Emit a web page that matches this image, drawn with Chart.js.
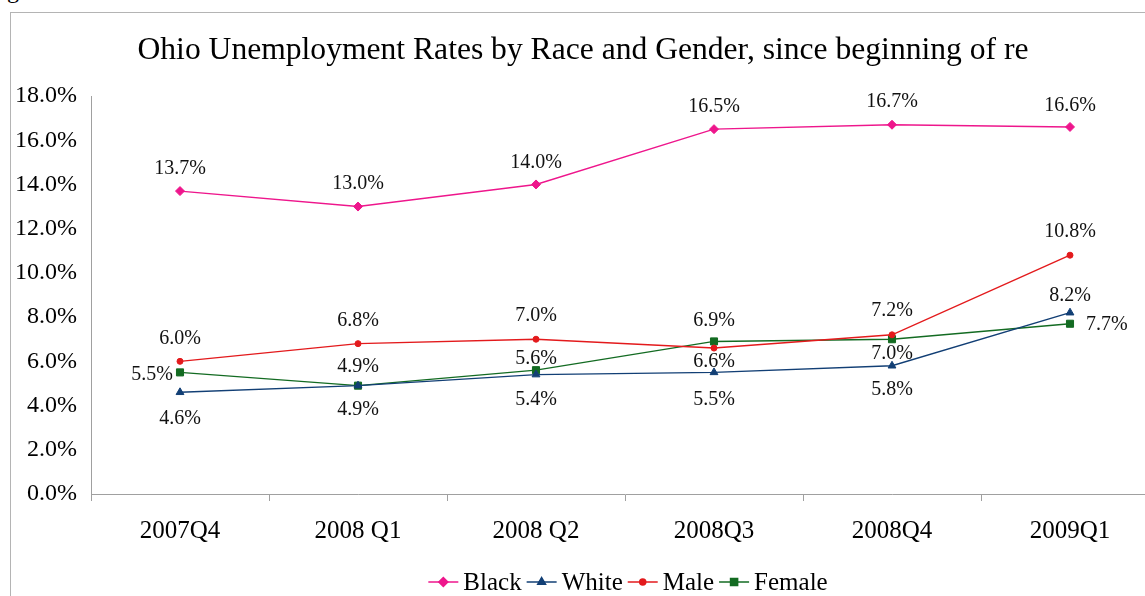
<!DOCTYPE html>
<html>
<head>
<meta charset="utf-8">
<script src="https://cdn.jsdelivr.net/npm/chart.js@4/dist/chart.umd.min.js"></script>
<style>
  html, body { margin: 0; padding: 0; background: #fff; overflow: hidden; }
  #wrap { position: relative; width: 1145px; height: 596px; overflow: hidden; }
  #frame { position: absolute; left: 10px; top: 12px; width: 1200px; height: 700px;
           border-left: 1.5px solid #b4b4b4; border-top: 1.5px solid #b4b4b4; }
  #cap { position: absolute; left: 7px; top: -22px; font: 24px "Liberation Serif", serif; line-height: 1; }
  #rates { position: absolute; left: 0; top: 0; }
</style>
</head>
<body>
<div id="wrap">
  <div id="frame"></div>
  <div id="cap">g</div>
  <canvas id="rates" width="1166" height="620"></canvas>
</div>
<script>
const quarters = ['2007Q4', '2008 Q1', '2008 Q2', '2008Q3', '2008Q4', '2009Q1'];
const blackRate = [13.7, 13.0, 14.0, 16.5, 16.7, 16.6];
const whiteRate = [4.6, 4.9, 5.4, 5.5, 5.8, 8.2];
const maleRate = [6.0, 6.8, 7.0, 6.6, 7.2, 10.8];
const femaleRate = [5.5, 4.9, 5.6, 6.9, 7.0, 7.7];

const titleText = 'Ohio Unemployment Rates by Race and Gender, since beginning of re';
const serif = '"Liberation Serif", "Times New Roman", serif';

// where each value label sits: a number is a vertical shift from the point, L/R put it beside
const blackPlace = [-22, -23, -22, -22, -23, -21];
const whitePlace = [26, 24, 25, 27, 24, -17];
const malePlace = [-23, -23, -23, 14, -24, -23];
const femalePlace = ['L', -19, -11, -21, 15, 'R'];

function series(label, data, color, style, radius, place) {
  return {
    label: label,
    data: data,
    borderColor: color,
    backgroundColor: color,
    borderWidth: 1.4,
    pointStyle: style,
    pointRadius: radius,
    pointHoverRadius: radius,
    pointBorderWidth: 1,
    tension: 0,
    place: place,
  };
}

const valueLabels = {
  id: 'valueLabels',
  afterDatasetsDraw(chart) {
    const ctx = chart.ctx;
    ctx.save();
    ctx.font = '20px ' + serif;
    ctx.fillStyle = '#111';
    chart.data.datasets.forEach((ds, i) => {
      const meta = chart.getDatasetMeta(i);
      meta.data.forEach((pt, j) => {
        const txt = ds.data[j].toFixed(1) + '%';
        const p = ds.place[j];
        ctx.textBaseline = 'middle';
        if (p === 'L') {
          ctx.textAlign = 'right';
          ctx.fillText(txt, pt.x - 7, pt.y + 2);
        } else if (p === 'R') {
          ctx.textAlign = 'left';
          ctx.fillText(txt, pt.x + 16, pt.y + 1);
        } else {
          ctx.textAlign = 'center';
          ctx.fillText(txt, pt.x, pt.y + p);
        }
      });
    });
    ctx.restore();
  }
};

// title across the top and the line+marker legend underneath the axis
const frameText = {
  id: 'frameText',
  afterDraw(chart) {
    const ctx = chart.ctx;
    ctx.save();
    ctx.fillStyle = '#000';
    ctx.font = '31.6px ' + serif;
    ctx.textAlign = 'center';
    ctx.textBaseline = 'alphabetic';
    ctx.fillText(titleText, 583, 59);

    ctx.font = '25px ' + serif;
    ctx.textAlign = 'left';
    ctx.textBaseline = 'middle';
    const lineLen = 30, gap = 5;
    const items = chart.data.datasets;
    let total = 0;
    items.forEach(ds => { total += lineLen + gap + ctx.measureText(ds.label).width + gap; });
    total -= gap;
    let x = 628 - total / 2;
    const y = 582;
    items.forEach(ds => {
      ctx.strokeStyle = ds.borderColor;
      ctx.lineWidth = 1.5;
      ctx.beginPath();
      ctx.moveTo(x, y);
      ctx.lineTo(x + lineLen, y);
      ctx.stroke();
      Chart.helpers.drawPoint(ctx, {
        pointStyle: ds.pointStyle,
        radius: ds.pointRadius,
        borderWidth: 1,
        rotation: 0
      }, x + lineLen / 2, y);
      ctx.fillStyle = ds.borderColor;
      ctx.fill();
      ctx.fillStyle = '#000';
      x += lineLen + gap;
      ctx.fillText(ds.label, x, y + 1);
      x += ctx.measureText(ds.label).width + gap;
    });
    ctx.restore();
  }
};

const ctx = document.getElementById('rates').getContext('2d');
new Chart(ctx, {
  type: 'line',
  data: {
    labels: quarters,
    datasets: [
      series('Black', blackRate, '#ee168c', 'rectRot', 4.5, blackPlace),
      series('White', whiteRate, '#123f75', 'triangle', 4.5, whitePlace),
      series('Male', maleRate, '#e31a1c', 'circle', 3, malePlace),
      series('Female', femaleRate, '#136b22', 'rect', 5, femalePlace),
    ],
  },
  options: {
    responsive: false,
    animation: false,
    devicePixelRatio: 1,
    layout: { padding: { top: 96, left: 0, right: 7, bottom: 66 } },
    plugins: {
      legend: { display: false },
      title: { display: false },
      tooltip: { enabled: false },
    },
    scales: {
      x: {
        offset: true,
        afterFit: (s) => { s.height = 60; },
        grid: {
          offset: true,
          drawOnChartArea: false,
          drawTicks: true,
          tickLength: 7,
          color: '#a0a0a0',
        },
        border: { color: '#a0a0a0', width: 1 },
        ticks: {
          font: { family: serif, size: 25 },
          color: '#000',
          padding: 15,
          maxRotation: 0,
        },
      },
      y: {
        min: 0,
        max: 18,
        afterFit: (s) => { s.width = 91; },
        grid: { display: false, drawTicks: false },
        border: { color: '#a0a0a0', width: 1 },
        ticks: {
          stepSize: 2,
          font: { family: serif, size: 24 },
          color: '#000',
          padding: 14,
          callback: (v) => v.toFixed(1) + '%',
        },
      },
    },
  },
  plugins: [valueLabels, frameText],
});
</script>
</body>
</html>
